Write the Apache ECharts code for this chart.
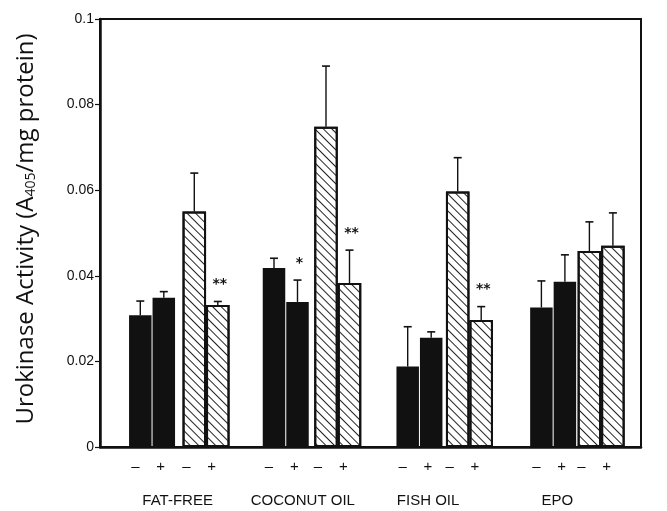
<!DOCTYPE html>
<html>
<head>
<meta charset="utf-8">
<script src="https://cdn.jsdelivr.net/npm/echarts@6/dist/echarts.min.js"></script>
<style>
  html, body { margin: 0; padding: 0; background: #fff; }
  #chart { width: 667px; height: 511px; }
</style>
</head>
<body>
<div id="chart"></div>
<script>
// diet groups along the x axis
var groups = ['FAT-FREE', 'COCONUT OIL', 'FISH OIL', 'EPO'];
var yTicks = [0, 0.02, 0.04, 0.06, 0.08, 0.1];

// solid bars (- / +)
var blackMinus = [0.0308, 0.0418, 0.0188, 0.0326];
var blackMinusErr = [0.0033, 0.0023, 0.0093, 0.0062];
var blackPlus = [0.0349, 0.0339, 0.0255, 0.0386];
var blackPlusErr = [0.0014, 0.0051, 0.0014, 0.0063];

// hatched bars (- / +)
var hatchMinus = [0.0550, 0.0748, 0.0597, 0.0458];
var hatchMinusErr = [0.0090, 0.0142, 0.0079, 0.0068];
var hatchPlus = [0.0332, 0.0383, 0.0297, 0.0470];
var hatchPlusErr = [0.0008, 0.0077, 0.0031, 0.0077];

// significance marks
var sigBlackPlus = ['', '*', '', ''];
var sigHatchPlus = ['**', '**', '**', ''];

var BW_BLACK = 22.5, GAP_BLACK = 1;
var BW_HATCH = 23.5;
var FONT_NARROW = '"Liberation Sans Narrow", "Liberation Sans", sans-serif';
// small nudges so group names sit where the original puts them
var groupLabelPad = [[0, 0, 0, 20], [0, 0, 0, 0], [0, 20, 0, 0], [0, 32, 0, 0]];

var myChart = echarts.init(document.getElementById('chart'));

// error bar + optional star label drawn with the axis scales
function errorBar(values, errs, sig, offset) {
    return function(params, api) {
        var i = params.dataIndex;
        var base = api.coord([i, values[i]]);
        var top = api.coord([i, values[i] + errs[i]]);
        var x = base[0] + offset;
        var children = [{
            type: 'line',
            shape: { x1: x, y1: base[1], x2: x, y2: top[1] },
            style: { stroke: '#111', lineWidth: 1.4 }
        }, {
            type: 'line',
            shape: { x1: x - 4, y1: top[1], x2: x + 4, y2: top[1] },
            style: { stroke: '#111', lineWidth: 1.6 }
        }];
        if (sig && sig[i]) {
            children.push({
                type: 'text',
                style: {
                    x: x + 2, y: top[1] - 17,
                    text: sig[i],
                    fill: '#111',
                    font: 'bold 14px "DejaVu Sans", sans-serif',
                    align: 'center', verticalAlign: 'middle'
                }
            });
        }
        return { type: 'group', children: children };
    };
}

var hatchDecal = {
    symbol: 'rect',
    symbolSize: 1,
    color: '#222',
    backgroundColor: null,
    dashArrayX: [1, 0],
    dashArrayY: [0.9, 4.6],
    rotation: Math.PI / 4
};

var gridTop = 19, gridBottom = 64;
var pairLabel = { interval: 0, margin: 12, color: '#111', fontSize: 15, fontFamily: FONT_NARROW, formatter: function() { return '–    +'; } };

var option = {
    backgroundColor: '#fff',
    animation: false,
    grid: [
        // frame grid
        { left: 100, right: 26, top: gridTop, bottom: gridBottom, show: true, borderColor: '#111', borderWidth: 2, backgroundColor: 'transparent' },
        // solid bar pairs
        { left: 85.2, width: 534.8, top: gridTop, bottom: gridBottom },
        // hatched bar pairs
        { left: 140.2, width: 534.8, top: gridTop, bottom: gridBottom }
    ],
    xAxis: [{
        gridIndex: 0,
        type: 'category',
        data: groups.map(function(g, i) {
            return { value: g, textStyle: { padding: groupLabelPad[i] } };
        }),
        axisLine: { lineStyle: { color: '#111', width: 2.5 } },
        axisTick: { show: false },
        axisLabel: { interval: 0, margin: 46, color: '#111', fontSize: 15, fontFamily: FONT_NARROW }
    }, {
        gridIndex: 1,
        type: 'category',
        data: groups,
        axisLine: { show: false },
        axisTick: { show: false },
        axisLabel: Object.assign({}, pairLabel, { padding: [0, 8, 0, 0] })
    }, {
        gridIndex: 2,
        type: 'category',
        data: groups,
        axisLine: { show: false },
        axisTick: { show: false },
        axisLabel: Object.assign({}, pairLabel, { padding: [0, 14, 0, 0] })
    }],
    yAxis: [{
        gridIndex: 0,
        type: 'value',
        min: yTicks[0],
        max: yTicks[yTicks.length - 1],
        interval: 0.02,
        axisLine: { show: true, lineStyle: { color: '#111', width: 2.5 } },
        axisTick: { show: true, length: 5, lineStyle: { color: '#111', width: 1.2 } },
        splitLine: { show: false },
        axisLabel: {
            color: '#111', fontSize: 14, fontFamily: FONT_NARROW, margin: 6,
            formatter: function(v) { return String(+v.toFixed(2)); }
        },
        name: '{t|Urokinase Activity (A}{s|405}{t|/mg protein)}',
        nameLocation: 'middle',
        nameRotate: 90,
        nameGap: 62,
        nameTextStyle: {
            padding: [0, 0, 0, 8],
            rich: {
                t: { fontSize: 24, fontFamily: '"Open Sans", Lato, sans-serif', color: '#111' },
                s: { fontSize: 14, fontFamily: '"Open Sans", Lato, sans-serif', color: '#111', verticalAlign: 'bottom', padding: [10, 0, 0, 0] }
            }
        }
    }, {
        gridIndex: 1, type: 'value', min: 0, max: 0.1, show: false
    }, {
        gridIndex: 2, type: 'value', min: 0, max: 0.1, show: false
    }],
    series: [{
        name: 'black-',
        type: 'bar',
        xAxisIndex: 1, yAxisIndex: 1,
        barWidth: BW_BLACK,
        barGap: (GAP_BLACK / BW_BLACK * 100) + '%',
        itemStyle: { color: '#111' },
        data: blackMinus
    }, {
        name: 'black+',
        type: 'bar',
        xAxisIndex: 1, yAxisIndex: 1,
        barWidth: BW_BLACK,
        barGap: (GAP_BLACK / BW_BLACK * 100) + '%',
        itemStyle: { color: '#111' },
        data: blackPlus
    }, {
        name: 'hatch-',
        type: 'bar',
        xAxisIndex: 2, yAxisIndex: 2,
        barWidth: BW_HATCH,
        barGap: '0%',
        itemStyle: { color: '#fff', borderColor: '#111', borderWidth: 2, decal: hatchDecal },
        data: hatchMinus
    }, {
        name: 'hatch+',
        type: 'bar',
        xAxisIndex: 2, yAxisIndex: 2,
        barWidth: BW_HATCH,
        barGap: '0%',
        itemStyle: { color: '#fff', borderColor: '#111', borderWidth: 2, decal: hatchDecal },
        data: hatchPlus
    }, {
        type: 'custom',
        xAxisIndex: 1, yAxisIndex: 1,
        renderItem: errorBar(blackMinus, blackMinusErr, null, -(BW_BLACK + GAP_BLACK) / 2),
        data: blackMinus,
        z: 5
    }, {
        type: 'custom',
        xAxisIndex: 1, yAxisIndex: 1,
        renderItem: errorBar(blackPlus, blackPlusErr, sigBlackPlus, (BW_BLACK + GAP_BLACK) / 2),
        data: blackPlus,
        z: 5
    }, {
        type: 'custom',
        xAxisIndex: 2, yAxisIndex: 2,
        renderItem: errorBar(hatchMinus, hatchMinusErr, null, -BW_HATCH / 2),
        data: hatchMinus,
        z: 5
    }, {
        type: 'custom',
        xAxisIndex: 2, yAxisIndex: 2,
        renderItem: errorBar(hatchPlus, hatchPlusErr, sigHatchPlus, BW_HATCH / 2),
        data: hatchPlus,
        z: 5
    }]
};
myChart.setOption(option);
</script>
</body>
</html>
